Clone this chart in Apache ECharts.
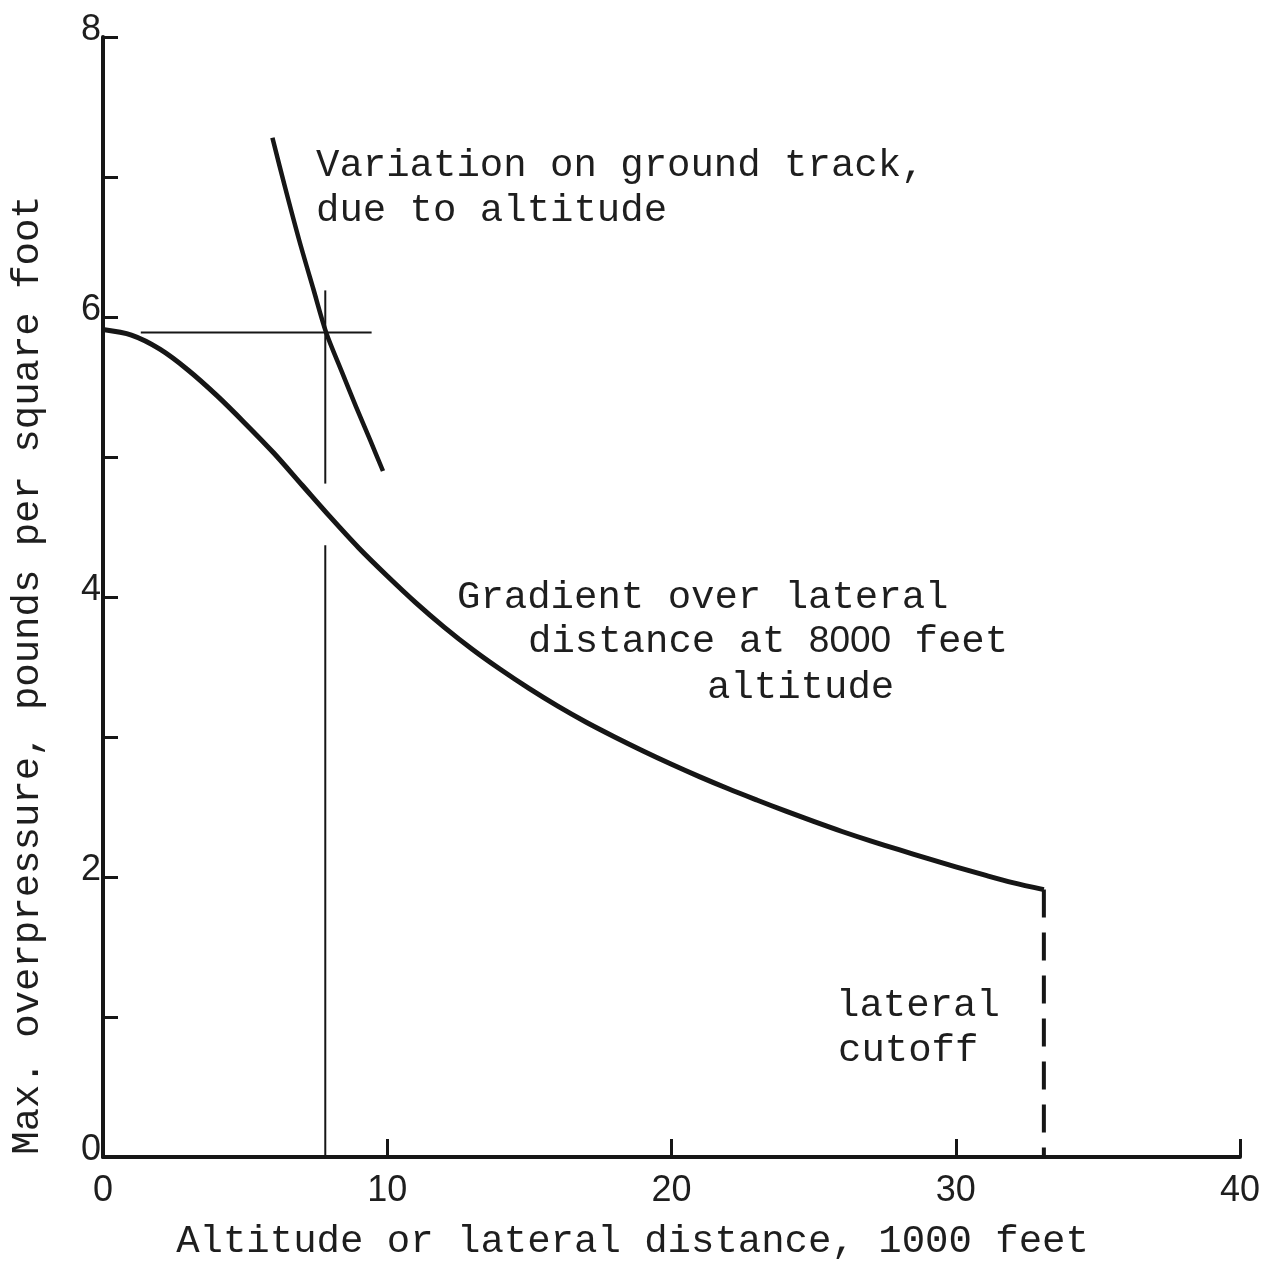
<!DOCTYPE html>
<html>
<head>
<meta charset="utf-8">
<script src="https://cdn.jsdelivr.net/npm/echarts@6/dist/echarts.min.js"></script>
<style>
html,body{margin:0;padding:0;background:#ffffff;}
#chart{width:1271px;height:1266px;}
</style>
</head>
<body>
<div id="chart"></div>
<script>
// ---- data ----
const xTicks = [0, 10, 20, 30, 40];
const yLabelValues = [0, 2, 4, 6, 8];
const xAxisTitle = 'Altitude or lateral distance, 1000 feet';
const yAxisTitle = 'Max. overpressure, pounds per square foot';

// Gradient over lateral distance at 8000 feet altitude
const gradientCurve = [
  [0,5.91],[1,5.87],[2,5.77],[3,5.62],[4,5.44],[5,5.24],[6,5.03],[7,4.80],[8,4.57],
  [9,4.35],[10,4.15],[11,3.96],[12,3.785],[13,3.625],[14,3.48],[15,3.345],[16,3.22],
  [17,3.105],[18,3.00],[19,2.90],[20,2.805],[21,2.715],[22,2.63],[23,2.55],[24,2.472],
  [25,2.397],[26,2.325],[27,2.258],[28,2.195],[29,2.133],[30,2.073],[31,2.015],[32,1.96],[33.1,1.91]
];
// Variation on ground track, due to altitude
const altitudeCurve = [
  [5.96,7.28],[6.4,6.93],[6.9,6.55],[7.4,6.20],[7.85,5.89],[8.4,5.61],[8.9,5.36],[9.4,5.12],[9.85,4.90]
];
// reading guide lines
const guideHorizontal = [[1.33,5.89],[9.45,5.89]];
const guideVerticalUpper = [[7.82,6.19],[7.82,4.81]];
const guideVerticalLower = [[7.82,4.37],[7.82,0]];
// lateral cutoff
const cutoffLine = [[33.1,1.91],[33.1,0]];

// annotation texts
const noteAltitude = ['Variation on ground track,', 'due to altitude'];
const noteGradient = ['Gradient over lateral', 'distance at ', '8000', ' feet', 'altitude'];
const noteCutoff = ['lateral', 'cutoff'];

const INK = '#161616';
const TEXT = '#1e1e1e';
const MONO = "'Liberation Mono', 'DejaVu Sans Mono', monospace";
const SANS = "'Liberation Sans', 'DejaVu Sans', sans-serif";

const chart = echarts.init(document.getElementById('chart'), null, {renderer: 'canvas'});

function lineSeries(data, width, type, smooth) {
  return {
    type: 'line', data: data, showSymbol: false, symbol: 'none',
    smooth: smooth || false,
    silent: true, animation: false,
    lineStyle: {color: INK, width: width, type: type || 'solid', cap: 'butt', join: 'round'}
  };
}

const monoText = (txt, x, y) => ({
  type: 'text', left: x, top: y,
  style: {text: txt, fill: TEXT, font: '39px ' + MONO}
});

chart.setOption({
  backgroundColor: '#ffffff',
  animation: false,
  grid: {left: 102, right: 31, top: 37, bottom: 104, containLabel: false},
  xAxis: {
    type: 'value', min: 0, max: 40, interval: 10,
    name: xAxisTitle, nameLocation: 'middle', nameGap: 65,
    nameTextStyle: {fontFamily: MONO, fontSize: 39, color: TEXT, padding: [0, 78, 0, 0]},
    axisLine: {show: true, onZero: false, lineStyle: {color: INK, width: 4}},
    axisTick: {show: true, inside: true, length: 18, lineStyle: {color: INK, width: 3}},
    axisLabel: {
      margin: 16, fontFamily: SANS, fontSize: 36, color: TEXT,
      formatter: v => xTicks.indexOf(v) >= 0 ? String(v) : ''
    },
    splitLine: {show: false}
  },
  yAxis: {
    type: 'value', min: 0, max: 8, interval: 1,
    name: yAxisTitle, nameLocation: 'middle', nameGap: 56,
    nameTextStyle: {fontFamily: MONO, fontSize: 39, color: TEXT, padding: [0, 156, 0, 0]},
    axisLine: {show: true, onZero: false, lineStyle: {color: INK, width: 4}},
    axisTick: {show: true, inside: true, length: 15, lineStyle: {color: INK, width: 3}},
    axisLabel: {
      margin: 2, fontFamily: SANS, fontSize: 36, color: TEXT,
      verticalAlign: 'bottom', lineHeight: 13,
      formatter: v => yLabelValues.indexOf(v) >= 0 ? String(v) : ''
    },
    splitLine: {show: false}
  },
  series: [
    lineSeries(gradientCurve, 5, 'solid', 0.3),
    lineSeries(altitudeCurve, 4.5, 'solid', 0.3),
    lineSeries(guideHorizontal, 2),
    lineSeries(guideVerticalUpper, 2),
    lineSeries(guideVerticalLower, 2),
    lineSeries(cutoffLine, 4, [28, 15])
  ],
  graphic: [
    monoText(noteAltitude[0], 316, 146),
    monoText(noteAltitude[1], 316, 191),
    monoText(noteGradient[0], 457, 578),
    {
      type: 'text', left: 528, top: 622,
      style: {
        text: '{m|' + noteGradient[1] + '}{s|' + noteGradient[2] + '}{m|' + noteGradient[3] + '}',
        fill: TEXT,
        rich: {
          m: {fontFamily: MONO, fontSize: 39, fill: TEXT},
          s: {fontFamily: SANS, fontSize: 37, fill: TEXT}
        }
      }
    },
    monoText(noteGradient[4], 707, 668),
    monoText(noteCutoff[0], 836, 986),
    monoText(noteCutoff[1], 838, 1031)
  ]
});
</script>
</body>
</html>
